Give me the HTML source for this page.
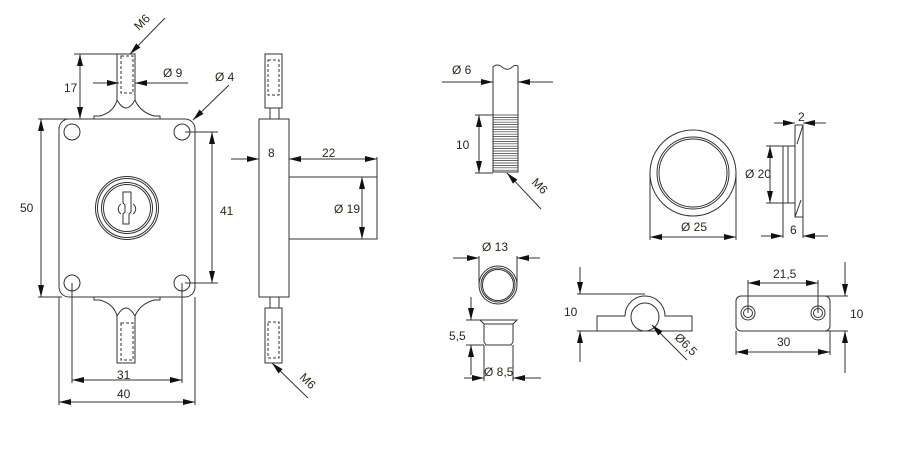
<!DOCTYPE html>
<html><head><meta charset="utf-8"><style>
html,body{margin:0;padding:0;background:#fff;}
svg{display:block;}
text{font-family:"Liberation Sans",sans-serif;font-size:12px;fill:#2a2a1a;}
</style></head><body>
<svg width="913" height="467" viewBox="0 0 913 467" xmlns="http://www.w3.org/2000/svg">
<defs>
<marker id="a" viewBox="0 0 12 6" refX="12" refY="3" markerWidth="12" markerHeight="6" markerUnits="userSpaceOnUse" orient="auto-start-reverse">
<path d="M0,0 L12,3 L0,6 Z" fill="#111"/></marker>
</defs>
<g fill="none" stroke="#333" stroke-width="1">
<!-- body -->
<rect x="59" y="119" width="136" height="178" rx="10"/>
<circle cx="72" cy="132" r="8"/><circle cx="182" cy="132" r="8"/>
<circle cx="72" cy="283" r="8"/><circle cx="182" cy="283" r="8"/>
<!-- top stud -->
<path d="M94,119 V116 H100 Q114,112 117,100 V54 H135 V100 Q140,112 154,116 H160 V119"/>
<path d="M117,100 Q126,116 135,100"/>
<rect x="121" y="56" width="12" height="37" stroke-dasharray="3,2"/>
<!-- bottom stud -->
<path d="M94,297 V300 H100 Q114,304 117,316 V363 H135 V316 Q140,304 154,300 H160 V297"/>
<path d="M117,316 Q126,300 135,316"/>
<rect x="121" y="323" width="12" height="37" stroke-dasharray="3,2"/>
<!-- cylinder -->
<circle cx="127" cy="208" r="31.5"/><circle cx="127" cy="208" r="29.5"/>
<circle cx="127" cy="208" r="25.5"/><circle cx="127" cy="208" r="23.5"/>
<path d="M123,192 H131 V212 L129,214 V224 H123 V214 L125,212 V205 L123,203 Z"/>
<path d="M121,204 A6,6 0 0 0 121,214 M133,204 A6,6 0 0 1 133,214"/>
<!-- side view -->
<rect x="259" y="119" width="30" height="178"/>
<rect x="265" y="54" width="17" height="54"/>
<path d="M270,108 V119 M279,108 V119 M270,297 V308 M279,297 V308"/>
<rect x="268" y="60" width="11" height="35" stroke-dasharray="3,2"/>
<rect x="265" y="308" width="17" height="55"/>
<rect x="268" y="322" width="11" height="36" stroke-dasharray="3,2"/>
<rect x="289" y="177" width="88" height="62"/>
<!-- dims left -->
<line x1="74" y1="54" x2="130" y2="54"/>
<line x1="80" y1="54" x2="80" y2="119" marker-start="url(#a)" marker-end="url(#a)"/>
<line x1="38" y1="119" x2="80" y2="119"/>
<line x1="38" y1="297" x2="62" y2="297"/>
<line x1="41" y1="119" x2="41" y2="297" marker-start="url(#a)" marker-end="url(#a)"/>
<line x1="93" y1="83" x2="119" y2="83" marker-end="url(#a)"/>
<line x1="135" y1="83" x2="188" y2="83" marker-start="url(#a)"/>
<line x1="165" y1="18" x2="130" y2="54" marker-end="url(#a)"/>
<line x1="229" y1="85" x2="193" y2="120" marker-end="url(#a)"/>
<line x1="185" y1="132" x2="218" y2="132"/>
<line x1="185" y1="283" x2="218" y2="283"/>
<line x1="212" y1="132" x2="212" y2="283" marker-start="url(#a)" marker-end="url(#a)"/>
<line x1="72" y1="283" x2="72" y2="383"/>
<line x1="182" y1="283" x2="182" y2="383"/>
<line x1="72" y1="380" x2="182" y2="380" marker-start="url(#a)" marker-end="url(#a)"/>
<line x1="59" y1="297" x2="59" y2="405"/>
<line x1="195" y1="297" x2="195" y2="405"/>
<line x1="59" y1="402" x2="195" y2="402" marker-start="url(#a)" marker-end="url(#a)"/>
<line x1="231" y1="159" x2="259" y2="159" marker-end="url(#a)"/>
<line x1="289" y1="159" x2="377" y2="159" marker-start="url(#a)" marker-end="url(#a)"/>
<line x1="377" y1="157" x2="377" y2="177"/>
<line x1="362" y1="177" x2="362" y2="239" marker-start="url(#a)" marker-end="url(#a)"/>
<line x1="308" y1="398" x2="272" y2="363" marker-end="url(#a)"/>
<!-- rod -->
<path d="M493,172 V67 Q497,63 502,67 T511,68 Q515,64 518,66 V172 Z"/>
<g stroke-width="0.7">
<path d="M493,115H518M493,117.4H518M493,119.8H518M493,122.2H518M493,124.6H518M493,127H518M493,129.4H518M493,131.8H518M493,134.2H518M493,136.6H518M493,139H518M493,141.4H518M493,143.8H518M493,146.2H518M493,148.6H518M493,151H518M493,153.4H518M493,155.8H518M493,158.2H518M493,160.6H518M493,163H518M493,165.4H518M493,167.8H518M493,170.2H518"/>
</g>
<line x1="442" y1="82" x2="493" y2="82" marker-end="url(#a)"/>
<line x1="518" y1="82" x2="553" y2="82" marker-start="url(#a)"/>
<line x1="475" y1="115" x2="493" y2="115"/>
<line x1="475" y1="173" x2="493" y2="173"/>
<line x1="479" y1="115" x2="479" y2="173" marker-start="url(#a)" marker-end="url(#a)"/>
<line x1="541" y1="209" x2="507" y2="173" marker-end="url(#a)"/>
<!-- ring -->
<circle cx="693" cy="173" r="43"/><circle cx="693" cy="173" r="36"/><circle cx="693" cy="173" r="34"/>
<line x1="650" y1="173" x2="650" y2="240"/><line x1="736" y1="173" x2="736" y2="240"/>
<line x1="650" y1="237" x2="736" y2="237" marker-start="url(#a)" marker-end="url(#a)"/>
<path d="M783,146 H795 V203 H783 Z M788,146 V203"/>
<path d="M795,125 H803 L797,144 M803,125 V217 H795 L801,200"/>
<line x1="795" y1="125" x2="795" y2="217"/>
<line x1="774" y1="123" x2="795" y2="123" marker-end="url(#a)"/>
<line x1="803" y1="123" x2="826" y2="123" marker-start="url(#a)"/>
<line x1="766" y1="146" x2="783" y2="146"/><line x1="766" y1="203" x2="783" y2="203"/>
<line x1="770" y1="146" x2="770" y2="203" marker-start="url(#a)" marker-end="url(#a)"/>
<line x1="783" y1="203" x2="783" y2="238"/><line x1="803" y1="217" x2="803" y2="238"/>
<line x1="761" y1="236" x2="783" y2="236" marker-end="url(#a)"/>
<line x1="803" y1="236" x2="828" y2="236" marker-start="url(#a)"/>
<!-- ferrule -->
<circle cx="498" cy="285" r="19"/><circle cx="498" cy="285" r="17"/><circle cx="498" cy="285" r="15.5"/>
<line x1="479" y1="256" x2="479" y2="285"/><line x1="517" y1="256" x2="517" y2="285"/>
<line x1="453" y1="258" x2="479" y2="258" marker-end="url(#a)"/>
<line x1="517" y1="258" x2="540" y2="258" marker-start="url(#a)"/>
<path d="M480,320 H517 L513,324 V342 L511,345 H486 L484,342 V324 Z M484,324 H513"/>
<line x1="466" y1="320" x2="480" y2="320"/><line x1="466" y1="345" x2="484" y2="345"/>
<line x1="471" y1="297" x2="471" y2="320" marker-end="url(#a)"/>
<line x1="471" y1="345" x2="471" y2="375" marker-start="url(#a)"/>
<line x1="484" y1="345" x2="484" y2="381"/><line x1="513" y1="345" x2="513" y2="381"/>
<line x1="464" y1="378" x2="484" y2="378" marker-end="url(#a)"/>
<line x1="513" y1="378" x2="541" y2="378" marker-start="url(#a)"/>
<!-- strike side -->
<path d="M597,331 V316 H625 A20,20 0 0 1 665,316 H692 V331 Z"/>
<circle cx="645" cy="317" r="14"/>
<line x1="577" y1="294" x2="645" y2="294"/><line x1="577" y1="331" x2="597" y2="331"/>
<line x1="580" y1="267" x2="580" y2="294" marker-end="url(#a)"/>
<line x1="580" y1="331" x2="580" y2="362" marker-start="url(#a)"/>
<line x1="687" y1="360" x2="652" y2="325" marker-end="url(#a)"/>
<!-- plate -->
<rect x="736" y="296" width="94" height="35" rx="5"/>
<circle cx="748" cy="313" r="7"/><circle cx="748" cy="313" r="4.5"/>
<circle cx="818" cy="313" r="7"/><circle cx="818" cy="313" r="4.5"/>
<line x1="748" y1="280" x2="748" y2="313"/><line x1="818" y1="280" x2="818" y2="313"/>
<line x1="748" y1="283" x2="818" y2="283" marker-start="url(#a)" marker-end="url(#a)"/>
<line x1="736" y1="331" x2="736" y2="355"/><line x1="830" y1="331" x2="830" y2="355"/>
<line x1="736" y1="352" x2="830" y2="352" marker-start="url(#a)" marker-end="url(#a)"/>
<line x1="825" y1="296" x2="848" y2="296"/><line x1="825" y1="331" x2="848" y2="331"/>
<line x1="845" y1="262" x2="845" y2="296" marker-end="url(#a)"/>
<line x1="845" y1="331" x2="845" y2="373" marker-start="url(#a)"/>
</g>
<text x="64" y="92">17</text>
<text x="20" y="212">50</text>
<text x="163" y="77">Ø 9</text>
<text x="215" y="81">Ø 4</text>
<text x="220" y="215">41</text>
<text x="117" y="379">31</text>
<text x="117" y="398">40</text>
<text x="268" y="157">8</text>
<text x="322" y="157">22</text>
<text x="334" y="213">Ø 19</text>
<text transform="translate(139,31) rotate(-45)">M6</text>
<text transform="translate(299,378) rotate(45)">M6</text>
<text x="452" y="74">Ø 6</text>
<text x="456" y="149">10</text>
<text transform="translate(531,183) rotate(45)">M6</text>
<text x="681" y="231">Ø 25</text>
<text x="745" y="178">Ø 20</text>
<text x="798" y="121">2</text>
<text x="790" y="234">6</text>
<text x="482" y="251">Ø 13</text>
<text x="449" y="340">5,5</text>
<text x="484" y="376">Ø 8,5</text>
<text x="564" y="316">10</text>
<text transform="translate(674,338) rotate(45)">Ø6,5</text>
<text x="773" y="278">21,5</text>
<text x="777" y="346">30</text>
<text x="850" y="318">10</text>
</svg>
</body></html>
